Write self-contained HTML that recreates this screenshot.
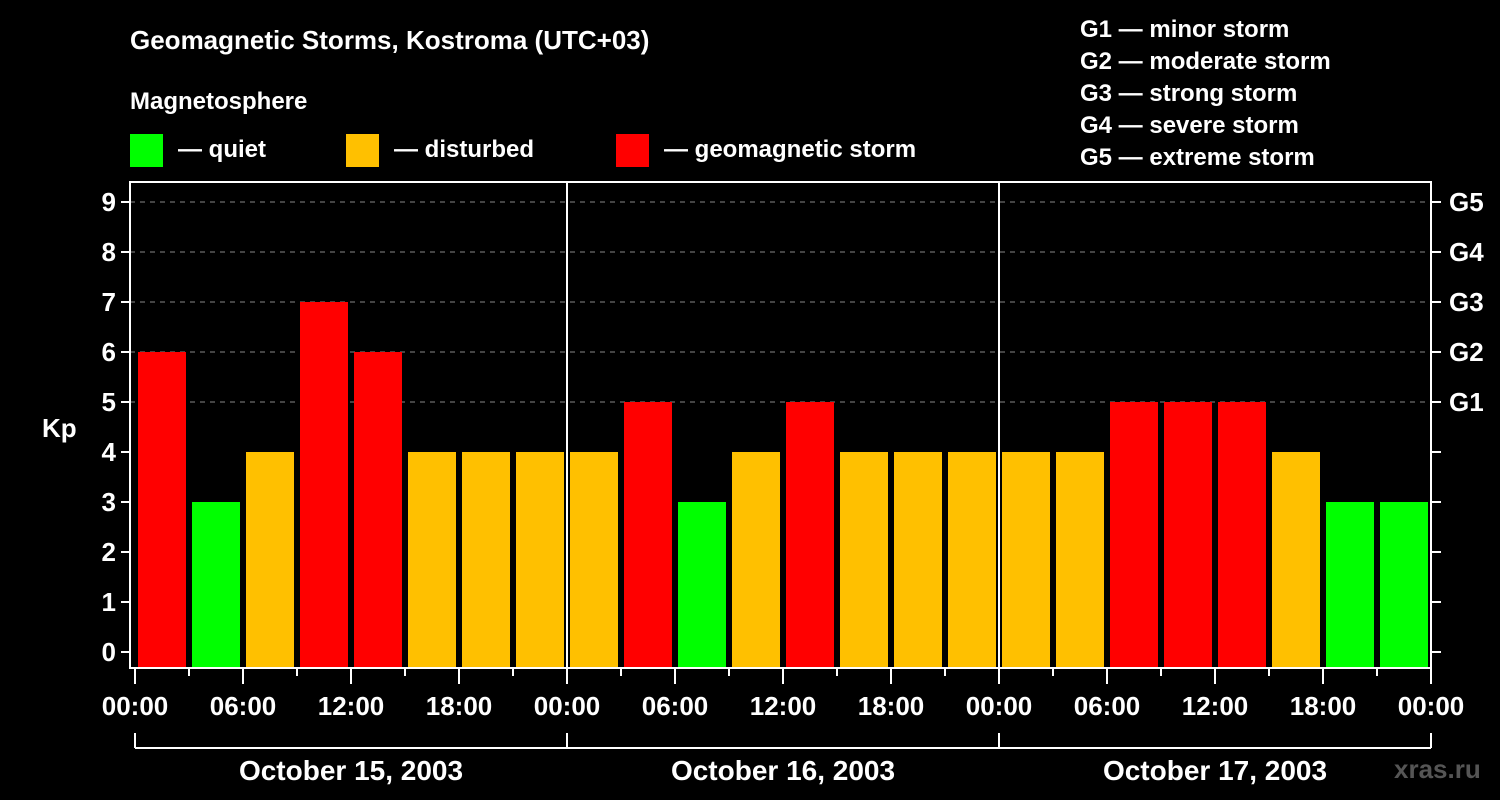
<!DOCTYPE html>
<html><head><meta charset="utf-8"><style>
body{margin:0;background:#000;width:1500px;height:800px;overflow:hidden}
svg{display:block;font-family:"Liberation Sans",Arial,sans-serif;font-weight:bold;fill:#fff}
</style></head><body>
<svg id="c" width="1500" height="800" viewBox="0 0 1500 800">
<text x="130" y="49" font-size="26">Geomagnetic Storms, Kostroma (UTC+03)</text>
<text x="130" y="109" font-size="24">Magnetosphere</text>
<rect x="130" y="134" width="33" height="33" fill="#00ff00"/>
<text x="178" y="157" font-size="24">— quiet</text>
<rect x="346" y="134" width="33" height="33" fill="#ffc000"/>
<text x="394" y="157" font-size="24">— disturbed</text>
<rect x="616" y="134" width="33" height="33" fill="#ff0000"/>
<text x="664" y="157" font-size="24">— geomagnetic storm</text>
<g font-size="24">
<text x="1080" y="37">G1 — minor storm</text>
<text x="1080" y="69">G2 — moderate storm</text>
<text x="1080" y="101">G3 — strong storm</text>
<text x="1080" y="133">G4 — severe storm</text>
<text x="1080" y="165">G5 — extreme storm</text>
</g>
<text x="42" y="437" font-size="26">Kp</text>
<text x="1394" y="778" font-size="26" fill="#555" style="fill:#555">xras.ru</text>
<g id="grid"></g><g id="bars"></g><g id="axes"></g>
</svg>
<script>
const kpValues=[6,3,4,7,6,4,4,4, 4,5,3,4,5,4,4,4, 4,4,5,5,5,4,3,3];
const yTicks=[0,1,2,3,4,5,6,7,8,9];
const gLevels=[5,6,7,8,9];
const gLabels=["G1","G2","G3","G4","G5"];
const hourLabels=["00:00","06:00","12:00","18:00"];
const dayLabels=["October 15, 2003","October 16, 2003","October 17, 2003"];
const NS="http://www.w3.org/2000/svg";
const X0=135,PXH=18,Y0=652,PXU=50,TOP=182,BOT=668,LEFT=130,RIGHT=1431;
const xs=h=>X0+h*PXH, ys=v=>Y0-v*PXU;
function mk(t,a,p){const e=document.createElementNS(NS,t);for(const k in a)e.setAttribute(k,a[k]);p.appendChild(e);return e;}
const grid=document.getElementById('grid'),bars=document.getElementById('bars'),axes=document.getElementById('axes');
yTicks.forEach(v=>{
 if(v>=5){const l=mk('line',{x1:LEFT,x2:RIGHT,y1:ys(v),y2:ys(v),stroke:'#888','stroke-width':1,'stroke-dasharray':'5,5'},grid);
 
 }
 const t=mk('line',{x1:LEFT-9,x2:LEFT,y1:ys(v),y2:ys(v),stroke:'#fff','stroke-width':2},axes);
 
 
 const t2=mk('line',{x1:RIGHT,x2:RIGHT+10,y1:ys(v),y2:ys(v),stroke:'#fff','stroke-width':2},axes);
 
 
 const tx=mk('text',{x:LEFT-14,y:ys(v)+9,'font-size':26,'text-anchor':'end'},axes);tx.textContent=v;
 
 
});
gLevels.forEach((v,i)=>{const tx=mk('text',{x:1449,y:ys(v)+9,'font-size':26},axes);tx.textContent=gLabels[i];
 
 });
kpValues.forEach((v,i)=>{
 const col=v>=5?'#ff0000':(v>=4?'#ffc000':'#00ff00');
 const r=mk('rect',{x:xs(i*3)+3,y:ys(v),width:48,height:BOT-ys(v),fill:col},bars);
 
 
});
// frame
const f=mk('rect',{x:LEFT,y:TOP,width:RIGHT-LEFT,height:BOT-TOP,fill:'none',stroke:'#fff','stroke-width':2},axes);


[1,2].forEach(d=>{const l=mk('line',{x1:xs(d*24),x2:xs(d*24),y1:TOP,y2:BOT,stroke:'#fff','stroke-width':2},axes);
 
 });
for(let h=0;h<=72;h+=3){
 const major=h%6===0;
 const l=mk('line',{x1:xs(h),x2:xs(h),y1:BOT,y2:BOT+(major?16:8),stroke:'#fff','stroke-width':2},axes);
 
 
 if(major){const t=mk('text',{x:xs(h),y:715,'font-size':26,'text-anchor':'middle'},axes);t.textContent=hourLabels[(h/6)%4];
 
 }
}
const br=mk('line',{x1:xs(0),x2:xs(72),y1:748,y2:748,stroke:'#fff','stroke-width':2},axes);


[0,1,2,3].forEach(d=>{const l=mk('line',{x1:xs(d*24),x2:xs(d*24),y1:733,y2:748,stroke:'#fff','stroke-width':2},axes);
 
 });
dayLabels.forEach((s,d)=>{const t=mk('text',{x:xs(d*24+12),y:780,'font-size':28,'text-anchor':'middle'},axes);t.textContent=s;
 
 });
</script>
</body></html>
